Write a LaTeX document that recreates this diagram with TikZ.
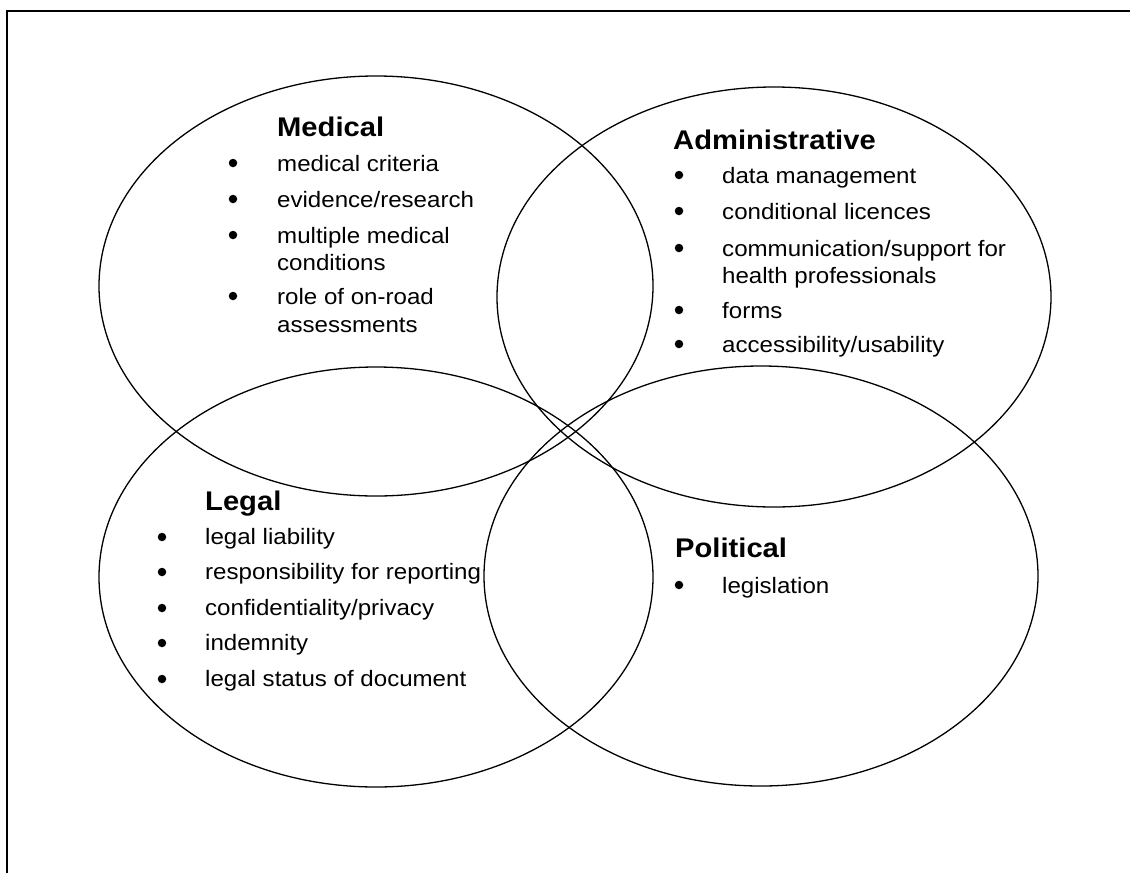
\documentclass[tikz,border=0pt]{standalone}
\usepackage{fontspec}
\setmainfont{Liberation Sans}[FakeStretch=1.08]
\usetikzlibrary{shapes.geometric}
\newcommand\itemfnt{\fontsize{22.3}{27}\selectfont}
\newcommand\titlefnt{\fontsize{27}{32}\selectfont\bfseries}
\begin{document}
\begin{tikzpicture}[x=1pt,y=-1pt,
  venn/.style={draw=black, line width=1.3pt, ellipse, minimum width=554pt, minimum height=420pt, inner sep=0pt},
  ttl/.style={anchor=base west, inner sep=0pt, font=\titlefnt},
  itm/.style={anchor=base west, inner sep=0pt, font=\itemfnt},
  dot/.style={circle, fill=black, inner sep=0pt, minimum size=8.5pt}]
\useasboundingbox[fill=white] (0,0) rectangle (1130,873);
\draw[line width=2.2pt] (7,873) -- (7,11) -- (1130,11);
% ellipses
\node[venn] (med) at (376,286) {};
\node[venn] (adm) at (774,297) {};
\node[venn] (leg) at (376,577) {};
\node[venn] (pol) at (761,576) {};
% Medical
\node[ttl] (medT) at (277,136) {Medical};
\node[dot] (mb1) at (233,163) {};
\node[itm] (m1) at (277,171) {medical criteria};
\node[dot] (mb2) at (233,199) {};
\node[itm] (m2) at (277,207) {evidence/research};
\node[dot] (mb3) at (233,235) {};
\node[itm] (m3) at (277,243) {multiple medical};
\node[itm] (m3b) at (277,270) {conditions};
\node[dot] (mb4) at (233,296) {};
\node[itm] (m4) at (277,304) {role of on-road};
\node[itm] (m4b) at (277,332) {assessments};
% Administrative
\node[ttl] (admT) at (673,149) {Administrative};
\node[dot] (ab1) at (679,175) {};
\node[itm] (a1) at (722,183) {data management};
\node[dot] (ab2) at (679,211) {};
\node[itm] (a2) at (722,219) {conditional licences};
\node[dot] (ab3) at (679,248) {};
\node[itm] (a3) at (722,256) {communication/support for};
\node[itm] (a3b) at (722,283) {health professionals};
\node[dot] (ab4) at (679,310) {};
\node[itm] (a4) at (722,318) {forms};
\node[dot] (ab5) at (679,344) {};
\node[itm] (a5) at (722,352) {accessibility/usability};
% Legal
\node[ttl] (legT) at (205,510) {Legal};
\node[dot] (lb1) at (162,537) {};
\node[itm] (l1) at (205,544) {legal liability};
\node[dot] (lb2) at (162,572) {};
\node[itm] (l2) at (205,579) {responsibility for reporting};
\node[dot] (lb3) at (162,608) {};
\node[itm] (l3) at (205,615) {confidentiality/privacy};
\node[dot] (lb4) at (162,643) {};
\node[itm] (l4) at (205,650) {indemnity};
\node[dot] (lb5) at (162,679) {};
\node[itm] (l5) at (205,686) {legal status of document};
% Political
\node[ttl] (polT) at (675,557) {Political};
\node[dot] (pb1) at (679,585) {};
\node[itm] (p1) at (722,593) {legislation};
\end{tikzpicture}
\end{document}
